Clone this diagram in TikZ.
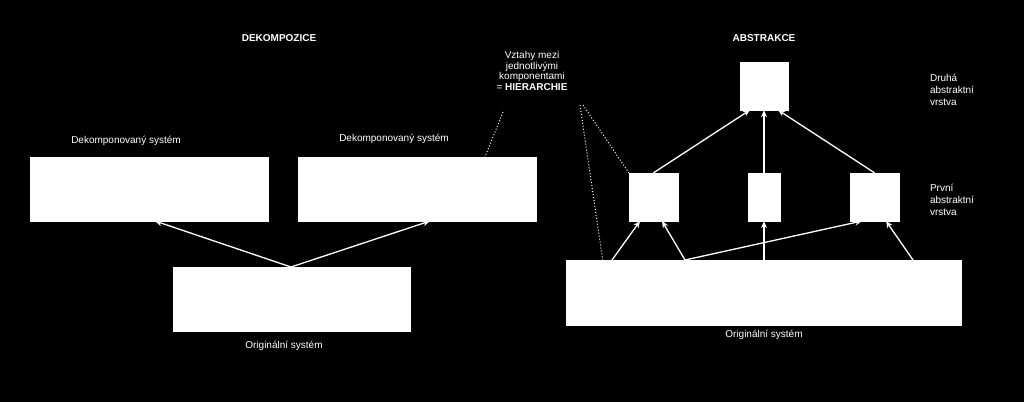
\documentclass[tikz,border=0pt]{standalone}
\usepackage{fontspec}
\setmainfont{Liberation Sans}
\usetikzlibrary{arrows.meta}
\begin{document}
\begin{tikzpicture}[x=1pt,y=-1pt,
  box/.style={draw=white,fill=white},
  lbl/.style={text=white,font=\fontsize{10}{12}\selectfont,align=center},
  arr/.style={draw=white,line width=1.3pt,-{Stealth[length=7pt,width=6pt]}},
  dot/.style={draw=white,dotted,line width=1pt}]
\fill[black] (0,0) rectangle (1024,402);
\useasboundingbox (0,0) rectangle (1024,402);
\node[lbl,font=\bfseries\fontsize{10}{12}\selectfont] (t1) at (279,38) {DEKOMPOZICE};
\node[lbl,font=\bfseries\fontsize{10}{12}\selectfont] (t2) at (764,38) {ABSTRAKCE};
\node[lbl] (l1) at (126,141) {Dekomponovaný systém};
\node[lbl] (l2) at (394,139) {Dekomponovaný systém};
\path[box] (30,157) rectangle (268,221); \coordinate (d1) at (155,221);
\path[box] (298,157) rectangle (536,221); \coordinate (d2) at (430,221);
\path[box] (173,267) rectangle (410,331); \coordinate (o1) at (291,267);
\node[lbl] (lo1) at (284,346) {Originální systém};
\draw[arr] (o1) -- (d1);
\draw[arr] (o1) -- (d2);
\node[lbl,font=\fontsize{10}{10.5}\selectfont] (h) at (532,71) {Vztahy mezi\\jednotlivými\\komponentami\\= \textbf{HIERARCHIE}};
\node[box,minimum width=48,minimum height=48,inner sep=0] (top) at (764,86) {};
\node[box,minimum width=49,minimum height=48,inner sep=0] (m1) at (653.5,197) {};
\node[box,minimum width=32,minimum height=48,inner sep=0] (m2) at (764,197) {};
\node[box,minimum width=49,minimum height=48,inner sep=0] (m3) at (874.5,197) {};
\node[box,minimum width=395,minimum height=65,inner sep=0] (bot) at (763.5,292.5) {};
\node[lbl] (lo2) at (764,335) {Originální systém};
\node[lbl,align=left] (s2) at (952,90) {Druhá\\abstraktní\\vrstva};
\node[lbl,align=left] (s1) at (952,200) {První\\abstraktní\\vrstva};
\draw[dot] (503,112) -- (485,157);
\draw[dot] (580,105) -- (603,262);
\draw[dot] (583,105) -- (m1.north west);
\draw[arr] (m1.north) -- (750,110);
\draw[arr] (m2.north) -- (top.south);
\draw[arr] (m3.north) -- (778,110);
\draw[arr] (612,260) -- (640,221);
\draw[arr] (685,260) -- (662,221);
\draw[arr] (685,260) -- (862,221);
\draw[arr] (764,260) -- (m2.south);
\draw[arr] (913,260) -- (886,221);
\end{tikzpicture}
\end{document}
